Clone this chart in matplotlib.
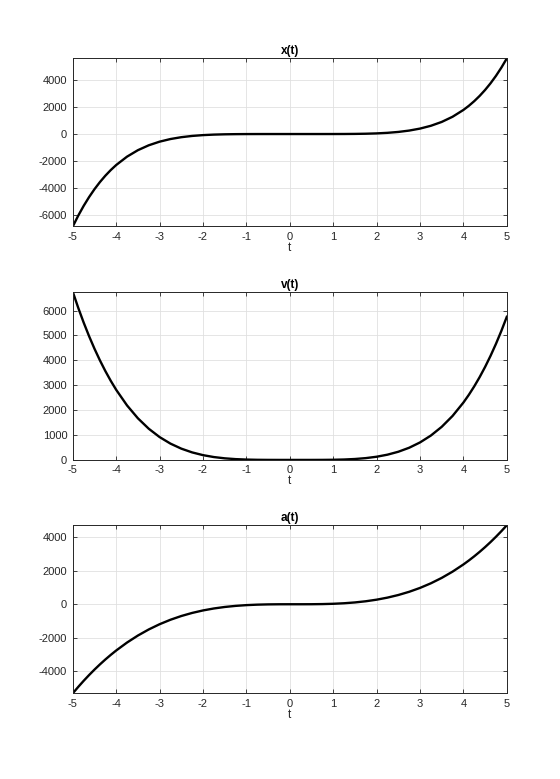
import matplotlib
matplotlib.use("Agg")
import matplotlib.pyplot as plt

plt.rcParams['font.family'] = ['Liberation Sans', 'DejaVu Sans']
plt.rcParams['axes.unicode_minus'] = False

t = [-5, -4.875, -4.75, -4.625, -4.5, -4.375, -4.25, -4.125, -4, -3.75, -3.5, -3.25, -3,
     -2.75, -2.5, -2.25, -2, -1.75, -1.5, -1.25, -1, -0.75, -0.5, -0.25, 0, 0.25, 0.5,
     0.75, 1, 1.25, 1.5, 1.75, 2, 2.25, 2.5, 2.75, 3, 3.25, 3.5, 3.75, 4, 4.125, 4.25,
     4.375, 4.5, 4.625, 4.75, 4.875, 5]

x_vals = [-6875, -6071.7, -5345.2, -4690.0, -4100.6, -3572.1, -3099.4, -2678.2, -2304,
          -1680.9, -1200.5, -836.75, -567, -371.74, -234.38, -140.96, -80, -42.2, -20.25,
          -8.55, -3, -0.79, -0.125, -0.006, 0, -0.002, 0, 0.158, 1, 3.66, 10.13, 23.45,
          48, 89.7, 156.25, 257.36, 405, 613.62, 900.38, 1285.4, 1792, 2099.1, 2446.9,
          2839.3, 3280.5, 3774.9, 4327.06, 4942.1, 5625]

v_vals = [6750, 6111.5, 5519.35, 4971.3, 4465.13, 3998.6, 3569.6, 3176.1, 2816, 2188.48,
          1672.13, 1252.98, 918, 655.1, 453.13, 301.85, 192, 115.23, 64.13, 32.23, 14,
          4.85, 1.13, 0.1, 0, -0.023, 0.125, 1.48, 6, 16.6, 37.13, 72.35, 128, 210.73,
          328.13, 488.73, 702, 978.35, 1329.13, 1766.6, 2304, 2614.5, 2955.48, 3328.7,
          3736.13, 4179.9, 4661.98, 5184.6, 5750]

a_vals = [-5300, -4919.5, -4557.63, -4214.0, -3888, -3579.3, -3287.38, -3011.8, -2752,
          -2278.13, -1862, -1499.88, -1188, -922.63, -700, -516.38, -368, -251.13, -162,
          -96.88, -52, -23.63, -8, -1.38, 0, -0.125, 2, 10.13, 28, 59.38, 108, 177.63,
          272, 394.88, 550, 741.13, 972, 1246.38, 1568, 1940.63, 2368, 2603.4, 2853.88,
          3119.9, 3402, 3700.6, 4016.13, 4349.1, 4700]

titles = ['x(t)', 'v(t)', 'a(t)']
series = [x_vals, v_vals, a_vals]
yticks = [[-6000, -4000, -2000, 0, 2000, 4000],
          [0, 1000, 2000, 3000, 4000, 5000, 6000],
          [-4000, -2000, 0, 2000, 4000]]
xticks = [-5, -4, -3, -2, -1, 0, 1, 2, 3, 4, 5]

fig = plt.figure(figsize=(5.6, 7.79), dpi=100)
bottoms = [0.7093, 0.4096, 0.11]
axc = '#262626'
for b, ttl, ys, yt in zip(bottoms, titles, series, yticks):
    ax = fig.add_axes([0.13, b, 0.775, 0.2157])
    ax.plot(t, ys, color='black', lw=1.7, solid_joinstyle='round')
    ax.set_xlim(-5, 5)
    ax.set_ylim(min(ys), max(ys))
    ax.set_xticks(xticks)
    ax.set_yticks(yt)
    ax.grid(True, color='#e0e0e0', lw=0.6)
    ax.set_axisbelow(True)
    ax.tick_params(direction='in', top=True, right=True, length=3, width=0.6,
                   labelsize=8, colors=axc, pad=4)
    for s in ax.spines.values():
        s.set_color(axc)
        s.set_linewidth(0.7)
    ax.set_title(ttl, fontsize=8.5, fontweight='bold', pad=3)
    ax.set_xlabel('t', fontsize=8.5, color=axc, labelpad=0)

fig.savefig('out.png', dpi=100, facecolor='white')
